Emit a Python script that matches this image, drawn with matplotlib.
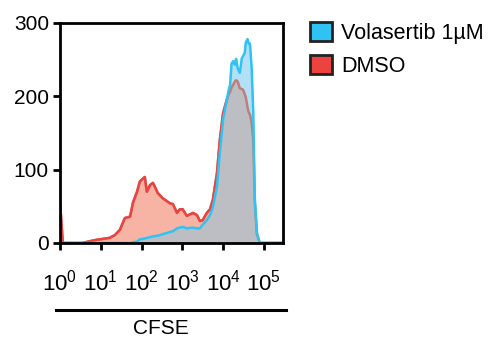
import numpy as np
import matplotlib
matplotlib.use("Agg")
import matplotlib.pyplot as plt
from matplotlib.patches import Patch
from matplotlib.lines import Line2D

plt.rcParams["font.family"] = ["Liberation Sans", "DejaVu Sans"]
plt.rcParams["mathtext.fontset"] = "custom"
plt.rcParams["mathtext.rm"] = "Liberation Sans"
plt.rcParams["mathtext.it"] = "Liberation Sans"

# CFSE intensity (log10) and event counts
cfse_log = [0.00, 0.07, 0.54, 0.86, 1.22, 1.35, 1.47, 1.59, 1.72, 1.79,
            1.89, 1.96, 2.08, 2.13, 2.21, 2.28, 2.40, 2.52, 2.70, 2.77,
            2.87, 2.94, 3.01, 3.11, 3.26, 3.36, 3.43, 3.50, 3.60, 3.68,
            3.75, 3.85, 3.92, 4.00, 4.09, 4.14, 4.17, 4.21, 4.25, 4.29,
            4.32, 4.36, 4.41, 4.46, 4.49, 4.53, 4.56, 4.60, 4.63, 4.66,
            4.70, 4.74, 4.78, 4.83, 4.90, 5.47]
dmso = [56, 0, 0, 4, 7, 11, 18, 34, 36, 55,
        70, 84, 90, 70, 79, 82, 68, 61, 54, 53,
        41, 46, 46, 37, 41, 38, 30, 31, 41, 46,
        59, 95, 140, 177, 195, 203, 206, 212, 216, 220,
        222, 220, 211, 210, 209, 203, 198, 185, 178, 175,
        165, 140, 55, 12, 0, 0]
volasertib = [0, 0, 0, 0, 0, 0, 0, 0, 0, 1,
              2, 5, 6, 7, 8, 9, 10, 12, 15, 16,
              20, 21, 22, 20, 21, 20, 20, 25, 31, 38,
              49, 77, 122, 168, 195, 209, 215, 245, 248, 243,
              251, 238, 232, 252, 255, 259, 274, 278, 272, 272,
              240, 180, 59, 14, 0, 0]

labels = ["Volasertib 1\u00b5M", "DMSO"]
y_ticks = [0, 100, 200, 300]
x_ticks = [1, 10, 100, 1e3, 1e4, 1e5]
x_ticklabels = [r"$\mathregular{10^{%d}}$" % i for i in range(6)]

RED = "#EC4340"
RED_FILL = "#F7B4A5"
RED_MUTED = "#C07E78"
BLUE = "#2EC3F3"
BLUE_FILL = "#B2E0F6"
GRAY_FILL = "#BDBEC3"

x = 10 ** np.array(cfse_log)
r = np.array(dmso, dtype=float)
b = np.array(volasertib, dtype=float)
low = np.minimum(r, b)

W, H = 488, 337
fig = plt.figure(figsize=(W / 100, H / 100), dpi=100)
ax = fig.add_axes([60 / W, 1 - 243 / H, 223 / W, 220 / H])

ax.fill_between(x, 0, low, color=GRAY_FILL, lw=0)
ax.fill_between(x, b, r, where=r >= b, interpolate=True, color=RED_FILL, lw=0)
ax.fill_between(x, r, b, where=b >= r, interpolate=True, color=BLUE_FILL, lw=0)

ax.plot(x, r, color=RED_MUTED, lw=1.8, solid_joinstyle="round")
ax.plot(x, np.ma.masked_where(r < b, r), color=RED, lw=1.8,
        solid_joinstyle="round")
ax.plot(x, b, color=BLUE, lw=1.8, solid_joinstyle="round")

ax.set_xscale("log")
ax.set_xlim(1, 10 ** 5.47)
ax.set_ylim(0, 300)
ax.set_xticks(x_ticks)
ax.set_xticklabels(x_ticklabels)
ax.xaxis.set_minor_locator(matplotlib.ticker.NullLocator())
ax.set_yticks(y_ticks)
ax.tick_params(axis="x", length=5, width=2, pad=14, labelsize=16)
ax.tick_params(axis="y", length=5, width=2, pad=3, labelsize=15)
for spine in ax.spines.values():
    spine.set_linewidth(2)

# bar above the axis title
fig.add_artist(Line2D([56 / W, 286 / W], [1 - 310 / H, 1 - 310 / H],
                      color="black", lw=2.2, transform=fig.transFigure))
fig.text(161 / W, 1 - 328 / H, "CFSE", ha="center", va="center", fontsize=15)

handles = [Patch(facecolor=BLUE, edgecolor="#222222", lw=2),
           Patch(facecolor=RED, edgecolor="#222222", lw=2)]
fig.legend(handles, labels, loc="upper left",
           bbox_to_anchor=(310 / W, 1 - 22 / H), frameon=False,
           fontsize=15.5, handlelength=1.0, handleheight=1.0,
           handletextpad=0.45, labelspacing=0.5, borderpad=0,
           borderaxespad=0)

fig.savefig("out.png", dpi=100)
